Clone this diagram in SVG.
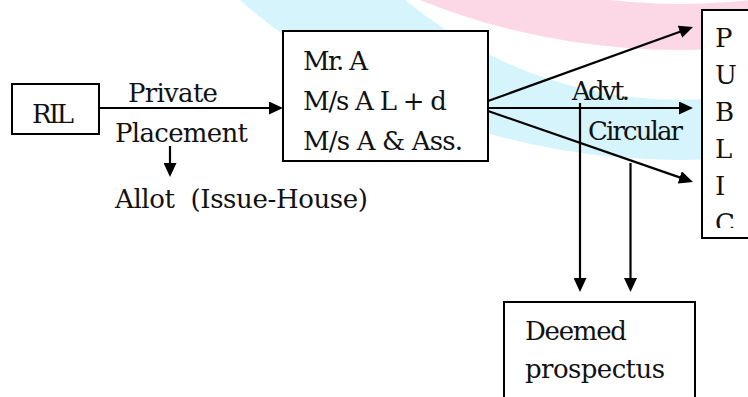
<svg xmlns="http://www.w3.org/2000/svg" width="748" height="397" viewBox="0 0 748 397">
  <defs>
    <style>
      .box { fill: #ffffff; stroke: #000000; stroke-width: 2; }
      .lbl { font-family: "DejaVu Serif", "Liberation Serif", serif; font-size: 26px; fill: #111111; }
      .wire { fill: none; stroke: #000000; stroke-width: 2.2; marker-end: url(#tip); }
      .band { fill-rule: evenodd; stroke: none; }
    </style>
    <marker id="tip" markerUnits="userSpaceOnUse" markerWidth="14" markerHeight="13" refX="6" refY="6.5" orient="auto">
      <path d="M0,0 L14,6.5 L0,13 Z" fill="#000000"/>
    </marker>
    <clipPath id="publicClip">
      <rect x="703" y="11" width="45" height="217"/>
    </clipPath>
  </defs>

  <rect width="748" height="397" fill="#ffffff"/>

  <!-- faint elliptical bands of the page backdrop (outer ring minus inner ring) -->
  <g id="backdrop">
    <path class="band" fill="#fcd7e5" d="M113,-400 A567,450 0 1 0 1247,-400 A567,450 0 1 0 113,-400 Z M180,-400 A500,404 0 1 0 1180,-400 A500,404 0 1 0 180,-400 Z"/>
    <path class="band" fill="#d5f4fc" d="M51,-400 A629,560 0 1 0 1309,-400 A629,560 0 1 0 51,-400 Z M222,-400 A458,500 0 1 0 1138,-400 A458,500 0 1 0 222,-400 Z"/>
  </g>

  <!-- connectors -->
  <g id="connectors">
    <path class="wire" d="M99,108 L275,108"/>
    <path class="wire" d="M170,146 L170,169"/>
    <path class="wire" d="M488,101 L685.5,29.7"/>
    <path class="wire" d="M488,108 L685,108"/>
    <path class="wire" d="M488,111 L685.4,179.4"/>
    <path class="wire" d="M580,103 L580,284"/>
    <path class="wire" d="M630.5,163 L630.5,284"/>
  </g>

  <g id="ril">
    <rect class="box" x="12" y="84" width="87" height="50"/>
    <text class="lbl" x="32" y="123" textLength="42">RIL</text>
  </g>

  <g id="placement-labels">
    <text class="lbl" x="128" y="101.5" textLength="90">Private</text>
    <text class="lbl" x="115" y="141.5" textLength="133">Placement</text>
    <text class="lbl" x="115" y="208" textLength="253" xml:space="preserve">Allot  (Issue-House)</text>
  </g>

  <g id="issuer">
    <rect class="box" x="283" y="31" width="205" height="130"/>
    <text class="lbl" x="303" y="70" textLength="65">Mr. A</text>
    <text class="lbl" x="303" y="110" textLength="144">M/s A L + d</text>
    <text class="lbl" x="303" y="150" textLength="160">M/s A &amp; Ass.</text>
  </g>

  <g id="media-labels">
    <text class="lbl" x="572" y="100" textLength="58">Advt.</text>
    <text class="lbl" x="588" y="140" textLength="95">Circular</text>
  </g>

  <g id="public">
    <rect class="box" x="702" y="10" width="60" height="228"/>
    <g clip-path="url(#publicClip)">
      <text class="lbl" x="715" y="47">P</text>
      <text class="lbl" x="715" y="84">U</text>
      <text class="lbl" x="715" y="121">B</text>
      <text class="lbl" x="715" y="158">L</text>
      <text class="lbl" x="715" y="195">I</text>
      <text class="lbl" x="715" y="232">C</text>
    </g>
  </g>

  <g id="deemed">
    <rect class="box" x="504" y="302" width="191" height="110"/>
    <text class="lbl" x="525" y="340" textLength="102">Deemed</text>
    <text class="lbl" x="525" y="378" textLength="140">prospectus</text>
  </g>
</svg>
